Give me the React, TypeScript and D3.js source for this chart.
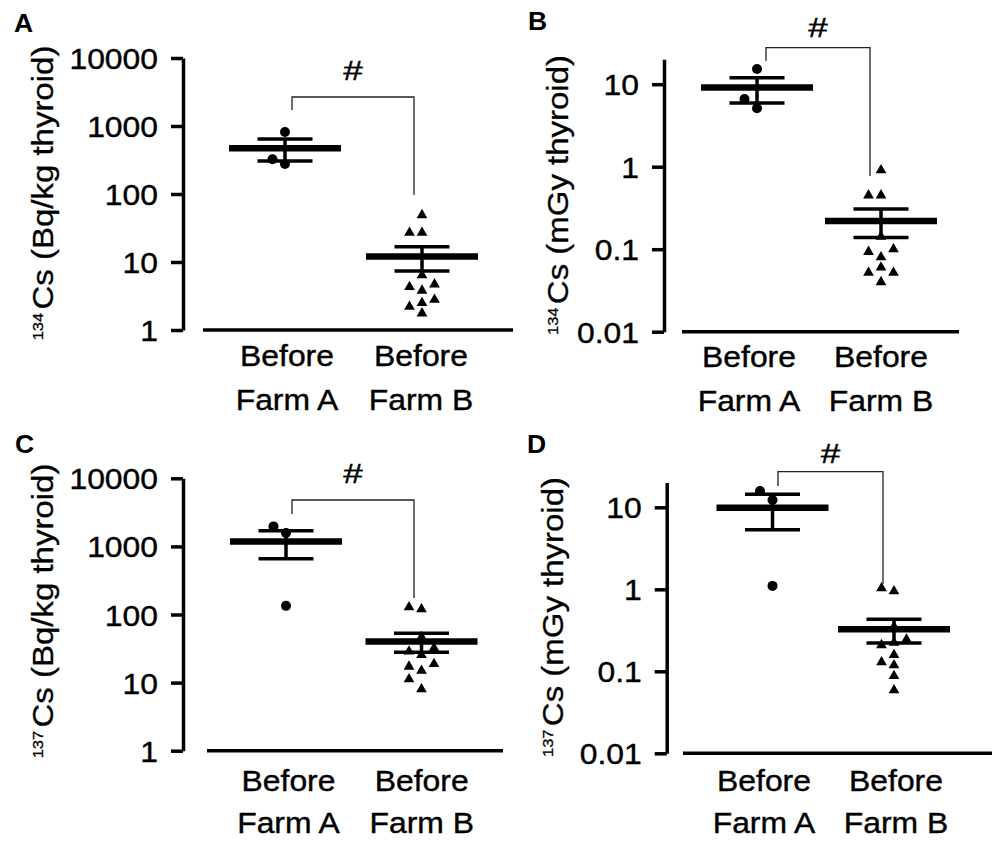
import * as d3 from "d3";
import React, { useEffect, useRef } from "react";

const groups = ["Farm A", "Farm B"];
const bqTicks = [1, 10, 100, 1000, 10000];
const gyTicks = [0.01, 0.1, 1, 10];

// A: 134Cs, Bq/kg thyroid
const a134FarmA = [815, 325, 277];
const a134FarmB = [49, 27, 27, 6.4, 4.7, 4.3, 3.8, 2.8, 2.5, 2.2, 1.76];
const a134Mean = [470, 12];
const a134Low = [305, 7.4];
const a134High = [644, 16.8];

// B: 134Cs, mGy thyroid
const b134FarmA = [15.3, 6.6, 5.1];
const b134FarmB = [0.91, 0.45, 0.45, 0.142, 0.1, 0.093, 0.08, 0.06, 0.052, 0.052, 0.04];
const b134Mean = [9.1, 0.22];
const b134Low = [5.9, 0.139];
const b134High = [12.0, 0.307];

// C: 137Cs, Bq/kg thyroid
const c137FarmA = [1968, 1574, 134];
const c137FarmB = [128, 120, 47, 32, 28.6, 25.5, 18.8, 17.2, 15, 11.2, 8];
const c137Mean = [1185, 40];
const c137Low = [659, 28];
const c137High = [1703, 53];

// D: 137Cs, mGy thyroid
const d137FarmA = [15.8, 12.3, 1.1];
const d137FarmB = [1.03, 0.95, 0.35, 0.245, 0.223, 0.209, 0.158, 0.129, 0.119, 0.088, 0.059];
const d137Mean = [9.9, 0.325];
const d137Low = [5.33, 0.221];
const d137High = [14.4, 0.43];

const SX = 1.08;
const FONT = "'Liberation Sans', Arial, Helvetica, sans-serif";

const panels = [
  {
    letter: "A", iso: "134", unit: "Bq/kg thyroid", ticks: bqTicks, axisMax: 10000,
    farmA: a134FarmA, farmB: a134FarmB, mean: a134Mean, low: a134Low, high: a134High,
    layout: {
      letterX: 14, letterY: 32, axisX: 183, yBottom: 330, decade: 68, xStart: 203, xEnd: 513,
      centers: [285, 422], labelCenters: [287, 421], line1: 366, line2: 410,
      titleX: 53, titleY: 193, bracket: [292, 414, 97, 110, 195], hashY: 80
    }
  },
  {
    letter: "B", iso: "134", unit: "mGy thyroid", ticks: gyTicks, axisMax: 20,
    farmA: b134FarmA, farmB: b134FarmB, mean: b134Mean, low: b134Low, high: b134High,
    layout: {
      letterX: 528, letterY: 30, axisX: 664, yBottom: 331.7, decade: 82.5, xStart: 682, xEnd: 959,
      centers: [757, 881], labelCenters: [749, 881], line1: 367, line2: 411,
      titleX: 568, titleY: 195, bracket: [766, 870, 47.7, 61, 176], hashY: 37
    }
  },
  {
    letter: "C", iso: "137", unit: "Bq/kg thyroid", ticks: bqTicks, axisMax: 10000,
    farmA: c137FarmA, farmB: c137FarmB, mean: c137Mean, low: c137Low, high: c137High,
    layout: {
      letterX: 15, letterY: 453, axisX: 183, yBottom: 750.7, decade: 68.1, xStart: 207, xEnd: 503,
      centers: [286, 421.5], labelCenters: [288.5, 421.7], line1: 791, line2: 833,
      titleX: 53, titleY: 611, bracket: [292, 414, 500, 514, 598], hashY: 483
    }
  },
  {
    letter: "D", iso: "137", unit: "mGy thyroid", ticks: gyTicks, axisMax: 20,
    farmA: d137FarmA, farmB: d137FarmB, mean: d137Mean, low: d137Low, high: d137High,
    layout: {
      letterX: 527, letterY: 453, axisX: 666.7, yBottom: 753.3, decade: 82, xStart: 683, xEnd: 992,
      centers: [772.5, 894], labelCenters: [764, 896], line1: 791, line2: 833,
      titleX: 563, titleY: 617, bracket: [778, 883, 471.7, 486, 584], hashY: 463
    }
  }
];

// simple column scatter: lowest values placed first, spread sideways on collision
const swarm = (values: number[], y: (v: number) => number, cx: number, step: number, minDist: number) => {
  const order = values.map((_, i) => i).sort((a, b) => values[a] - values[b]);
  const placed: [number, number][] = [];
  const out: [number, number][] = new Array(values.length);
  order.forEach(i => {
    const py = y(values[i]);
    for (const s of [0, -1, 1, -2, 2]) {
      const px = cx + s * step;
      if (placed.every(p => Math.hypot(p[0] - px, p[1] - py) >= minDist)) {
        placed.push([px, py]);
        out[i] = [px, py];
        break;
      }
    }
  });
  return out;
};

const label = (g: any, x: number, y: number, str: string, size: number, anchor = "middle", weight = "normal", sx = SX) =>
  g.append("text")
    .attr("transform", `translate(${x},${y}) scale(${sx},1)`)
    .attr("text-anchor", anchor)
    .attr("font-size", size)
    .attr("font-weight", weight)
    .attr("font-family", FONT)
    .attr("fill", "#000")
    .attr("stroke", "#000")
    .attr("stroke-width", weight === "bold" ? 0 : 0.4)
    .text(str);

const drawPanel = (svg: any, p: any) => {
  const L = p.layout;
  const g = svg.append("g");
  const min = p.ticks[0];
  const y = d3.scaleLog()
    .domain([min, p.axisMax])
    .range([L.yBottom, L.yBottom - L.decade * Math.log10(p.axisMax / min)]);
  const x = d3.scalePoint().domain(groups).range(L.centers);
  const xl = d3.scalePoint().domain(groups).range(L.labelCenters);

  // y axis
  const yAxis = g.append("g")
    .attr("transform", `translate(${L.axisX},0)`)
    .call(d3.axisLeft(y).tickValues(p.ticks).tickSize(12).tickSizeOuter(0).tickFormat(d3.format("~g")));
  yAxis.select(".domain").attr("stroke", "#000").attr("stroke-width", 3.5);
  yAxis.selectAll(".tick line").attr("stroke", "#000").attr("stroke-width", 3.5);
  yAxis.selectAll(".tick text")
    .attr("x", null).attr("dy", null)
    .attr("transform", `translate(-25,10.5) scale(${SX},1)`)
    .attr("font-size", 29.5)
    .attr("font-family", FONT)
    .attr("fill", "#000")
    .attr("stroke", "#000")
    .attr("stroke-width", 0.4);

  // x axis line (detached from y axis)
  g.append("line")
    .attr("x1", L.xStart).attr("x2", L.xEnd)
    .attr("y1", L.yBottom).attr("y2", L.yBottom)
    .attr("stroke", "#000").attr("stroke-width", 3.5);

  // category labels
  groups.forEach(gr => {
    label(g, xl(gr)!, L.line1, "Before", 29.5);
    label(g, xl(gr)!, L.line2, gr, 29.5);
  });

  // y title
  const title = g.append("text")
    .attr("transform", `translate(${L.titleX},${L.titleY}) rotate(-90) scale(1.1,1)`)
    .attr("text-anchor", "middle")
    .attr("font-family", FONT)
    .attr("fill", "#000")
    .attr("stroke", "#000")
    .attr("stroke-width", 0.3);
  title.append("tspan").attr("font-size", 15).attr("dy", -10).text(p.iso);
  title.append("tspan").attr("font-size", 30).attr("dx", 3).attr("dy", 10).text(`Cs (${p.unit})`);

  // panel letter
  label(g, L.letterX, L.letterY, p.letter, 26, "start", "bold", 1.02);

  // points
  const dotsA = swarm(p.farmA, y, x("Farm A")!, 12.5, 10);
  g.selectAll(".dotA").data(dotsA).enter().append("circle")
    .attr("cx", (d: any) => d[0]).attr("cy", (d: any) => d[1])
    .attr("r", 5).attr("fill", "#000");
  const tri = d3.symbol().type(d3.symbolTriangle).size(50);
  const dotsB = swarm(p.farmB, y, x("Farm B")!, 12.5, 10);
  g.selectAll(".triB").data(dotsB).enter().append("path")
    .attr("d", tri() as string)
    .attr("transform", (d: any) => `translate(${d[0]},${d[1]})`)
    .attr("fill", "#000");

  // mean and SEM
  groups.forEach((gr, i) => {
    const cx = x(gr)!;
    g.append("line")
      .attr("x1", cx).attr("x2", cx)
      .attr("y1", y(p.low[i])).attr("y2", y(p.high[i]))
      .attr("stroke", "#000").attr("stroke-width", 3.5);
    [p.low[i], p.high[i]].forEach((v: number) => {
      g.append("line")
        .attr("x1", cx - 27.5).attr("x2", cx + 27.5)
        .attr("y1", y(v)).attr("y2", y(v))
        .attr("stroke", "#000").attr("stroke-width", 3.5);
    });
    g.append("line")
      .attr("x1", cx - 56).attr("x2", cx + 56)
      .attr("y1", y(p.mean[i])).attr("y2", y(p.mean[i]))
      .attr("stroke", "#000").attr("stroke-width", 6.5);
  });

  // significance bracket
  const [lx, rx, top, legL, legR] = L.bracket;
  g.append("path")
    .attr("d", `M${lx},${legL}V${top}H${rx}V${legR}`)
    .attr("fill", "none")
    .attr("stroke", "#222")
    .attr("stroke-width", 1.3);
  label(g, (lx + rx) / 2, L.hashY, "#", 27, "middle", "normal", 1.3);
};

export default function App() {
  const ref = useRef<SVGSVGElement>(null);

  useEffect(() => {
    const svg = d3.select(ref.current);
    svg.selectAll("*").remove();
    panels.forEach(p => drawPanel(svg, p));
  }, []);

  return (
    <svg
      ref={ref}
      width={992}
      height={841}
      style={{ position: "absolute", left: 0, top: 0, background: "#fff" }}
    />
  );
}
